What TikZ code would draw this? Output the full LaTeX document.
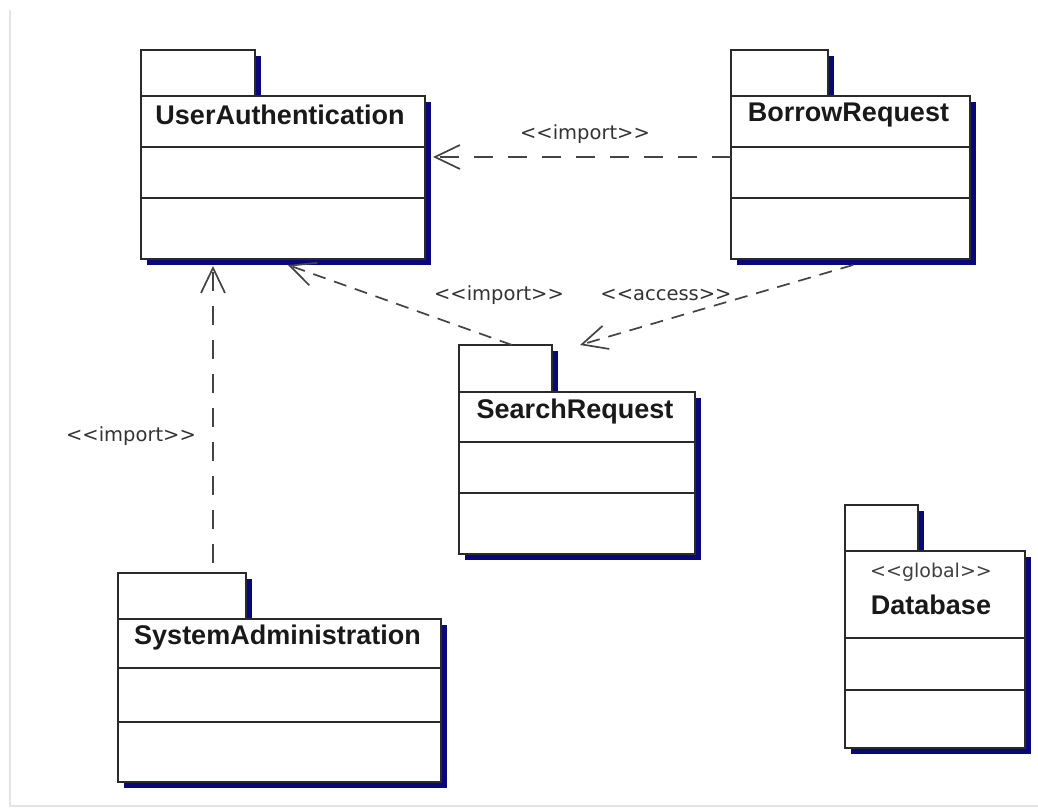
\documentclass[tikz,border=0pt]{standalone}
\usepackage{fontspec}
\setmainfont{Liberation Sans}
\newfontfamily\lblfont{DejaVu Sans}
\usetikzlibrary{calc,shadows,arrows.meta}

\definecolor{linecol}{HTML}{2A2A2A}
\definecolor{dashcol}{HTML}{444444}
\definecolor{shadecol}{HTML}{08087C}
\definecolor{framecol}{HTML}{E4E4E4}

\tikzset{
  pkgpart/.style={draw=linecol, line width=1.8pt, fill=white, inner sep=0pt,
    outer sep=0pt, anchor=north west,
    drop shadow={shadow xshift=6pt, shadow yshift=-6pt, fill=shadecol, opacity=1}},
  divider/.style={draw=linecol, line width=1.8pt},
  pkgname/.style={font=\fontsize{27}{30}\selectfont\bfseries, text=black!90, inner sep=0pt},
  stereo/.style={font=\lblfont\fontsize{19}{22}\selectfont, text=black!75, inner sep=0pt},
  lbl/.style={font=\lblfont\fontsize{19.5}{22}\selectfont, text=black!80, inner sep=0pt},
  dep/.style={draw=dashcol, line width=1.7pt,
    -{Straight Barb[length=25pt, width=24pt]}},
  longdash/.style={dash pattern=on 19pt off 15pt},
  shortdash/.style={dash pattern=on 13pt off 9pt},
}

\begin{document}
\begin{tikzpicture}[x=1pt, y=-1pt]
\useasboundingbox (0,0) rectangle (1038,809);
\fill[white] (0,0) rectangle (1038,809);

% faint page frame
\draw[framecol, line width=1.2pt] (10,10) -- (10,806) -- (1038,806);

% UserAuthentication
\node[pkgpart, minimum width=114pt, minimum height=46pt] (uaTab) at (141,50) {};
\node[pkgpart, minimum width=284pt, minimum height=163pt] (ua) at (141,96) {};
\draw[divider] ($(ua.north west)+(0,51)$) -- ($(ua.north east)+(0,51)$);
\draw[divider] ($(ua.north west)+(0,102)$) -- ($(ua.north east)+(0,102)$);
\node[pkgname] (uaName) at ($(ua.north)+(-3,19)$) {UserAuthentication};

% BorrowRequest
\node[pkgpart, minimum width=97pt, minimum height=46pt] (brTab) at (731,50) {};
\node[pkgpart, minimum width=239pt, minimum height=163pt] (br) at (731,96) {};
\draw[divider] ($(br.north west)+(0,51)$) -- ($(br.north east)+(0,51)$);
\draw[divider] ($(br.north west)+(0,102)$) -- ($(br.north east)+(0,102)$);
\node[pkgname] (brName) at ($(br.north)+(-2,19)$) {BorrowRequest};

% SearchRequest
\node[pkgpart, minimum width=93pt, minimum height=47pt] (srTab) at (459,345) {};
\node[pkgpart, minimum width=236pt, minimum height=162pt] (sr) at (459,392) {};
\draw[divider] ($(sr.north west)+(0,50)$) -- ($(sr.north east)+(0,50)$);
\draw[divider] ($(sr.north west)+(0,101)$) -- ($(sr.north east)+(0,101)$);
\node[pkgname] (srName) at ($(sr.north)+(-2,20)$) {SearchRequest};

% SystemAdministration
\node[pkgpart, minimum width=128pt, minimum height=46pt] (saTab) at (118,573) {};
\node[pkgpart, minimum width=323pt, minimum height=163pt] (sa) at (118,619) {};
\draw[divider] ($(sa.north west)+(0,49)$) -- ($(sa.north east)+(0,49)$);
\draw[divider] ($(sa.north west)+(0,103)$) -- ($(sa.north east)+(0,103)$);
\node[pkgname] (saName) at ($(sa.north)+(-2,19)$) {SystemAdministration};

% Database
\node[pkgpart, minimum width=73pt, minimum height=46pt] (dbTab) at (845,505) {};
\node[pkgpart, minimum width=180pt, minimum height=197pt] (db) at (845,551) {};
\draw[divider] ($(db.north west)+(0,87)$) -- ($(db.north east)+(0,87)$);
\draw[divider] ($(db.north west)+(0,139)$) -- ($(db.north east)+(0,139)$);
\node[stereo] (dbStereo) at ($(db.north)+(-4,21)$) {<{}<global>{}>};
\node[pkgname] (dbName) at ($(db.north)+(-4,54)$) {Database};

% dependencies
\draw[dep, longdash] ($(br.north west)+(0,61)$) -- ($(ua.north east)+(8,61)$);
\draw[dep, longdash] ($(saTab.north west)+(95,-10)$) -- ($(ua.south west)+(72,7)$);
\draw[dep, shortdash] ($(srTab.north west)+(53,0)$) -- ($(ua.south west)+(147,6)$);
\draw[dep, shortdash] ($(br.south west)+(122,6)$) -- ($(srTab.north east)+(28,0)$);

% dependency labels
\node[lbl] (impTop) at (585,134) {<{}<import>{}>};
\node[lbl] (impMid) at (499,295) {<{}<import>{}>};
\node[lbl] (accMid) at (666,295) {<{}<access>{}>};
\node[lbl] (impLeft) at (131,436) {<{}<import>{}>};
\end{tikzpicture}
\end{document}
